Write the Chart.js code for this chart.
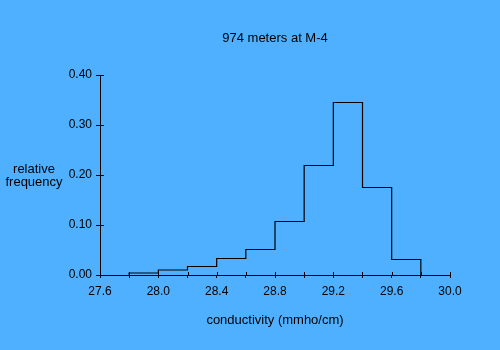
<!DOCTYPE html>
<html>
<head>
<meta charset="utf-8">
<script src="https://cdn.jsdelivr.net/npm/chart.js@4/dist/chart.umd.min.js"></script>
<style>
    html, body { margin: 0; padding: 0; background: #4fb0ff; }
    #chart { display: block; }
</style>
</head>
<body>
<canvas id="chart" width="500" height="350"></canvas>
<script>
// histogram data: bin left edges, relative frequency for each bin
const binEdges = [27.8, 28.0, 28.2, 28.4, 28.6, 28.8, 29.0, 29.2, 29.4, 29.6];
const binWidth = 0.2;
const frequencies = [0.004, 0.010, 0.017, 0.033, 0.051, 0.107, 0.219, 0.345, 0.175, 0.031];
const xTickLabels = ['27.6', '28.0', '28.4', '28.8', '29.2', '29.6', '30.0'];
const yTickLabels = ['0.00', '0.10', '0.20', '0.30', '0.40'];

// step outline points: each bin's height sits on its left edge
const stepPoints = [{ x: binEdges[0], y: 0 }];
binEdges.forEach((edge, i) => stepPoints.push({ x: edge, y: frequencies[i] }));
stepPoints.push({ x: binEdges[binEdges.length - 1] + binWidth, y: 0 });

const FONT = 'Arial, "Liberation Sans", sans-serif';

// inner half of the crossing tick marks + horizontal y title
const axisExtras = {
    id: 'axisExtras',
    afterDraw(chart) {
        const ctx = chart.ctx;
        const xs = chart.scales.x;
        const ys = chart.scales.y;
        ctx.save();
        ctx.strokeStyle = '#000';
        ctx.lineWidth = 1;
        ctx.beginPath();
        xs.ticks.forEach(t => {
            const px = Math.round(xs.getPixelForValue(t.value)) + 0.5;
            ctx.moveTo(px, ys.bottom);
            ctx.lineTo(px, ys.bottom - 3);
        });
        ys.ticks.forEach(t => {
            const py = Math.round(ys.getPixelForValue(t.value)) + 0.5;
            ctx.moveTo(xs.left, py);
            ctx.lineTo(xs.left + 4, py);
        });
        ctx.stroke();

        ctx.fillStyle = '#000';
        ctx.font = '13px ' + FONT;
        ctx.textAlign = 'center';
        ctx.textBaseline = 'middle';
        ctx.fillText('relative', 34, 169);
        ctx.fillText('frequency', 34, 182);
        ctx.restore();
    }
};

new Chart(document.getElementById('chart'), {
    type: 'line',
    data: {
        datasets: [{
            data: stepPoints,
            stepped: 'before',
            borderColor: '#000',
            borderWidth: 1.2,
            pointRadius: 0,
            fill: false
        }]
    },
    options: {
        responsive: false,
        animation: false,
        layout: { padding: { left: 0, right: 50, top: 0, bottom: 0 } },
        plugins: {
            legend: { display: false },
            tooltip: { enabled: false },
            title: {
                display: true,
                text: '974 meters at M-4',
                color: '#000',
                fullSize: false,
                font: { family: FONT, size: 13, weight: 'normal' },
                padding: { top: 31, bottom: 28.4 }
            }
        },
        scales: {
            x: {
                type: 'linear',
                min: 27.6,
                max: 30.0,
                border: { display: true, color: '#000', width: 1 },
                grid: { drawOnChartArea: false, drawTicks: true, tickLength: 3, color: '#000' },
                ticks: {
                    stepSize: 0.2,
                    color: '#000',
                    padding: 6,
                    maxRotation: 0,
                    autoSkip: false,
                    font: { family: FONT, size: 12 },
                    callback: (value, index) => index % 2 === 0 ? xTickLabels[index / 2] : ''
                },
                title: {
                    display: true,
                    text: 'conductivity (mmho/cm)',
                    color: '#000',
                    font: { family: FONT, size: 13 },
                    padding: { top: 4, bottom: 22 }
                },
                afterFit(scale) { scale.height = 75; }
            },
            y: {
                min: 0,
                max: 0.4,
                border: { display: true, color: '#000', width: 1 },
                grid: { drawOnChartArea: false, drawTicks: true, tickLength: 4, color: '#000' },
                ticks: {
                    stepSize: 0.1,
                    color: '#000',
                    padding: 4,
                    font: { family: FONT, size: 12 },
                    callback: (value, index) => yTickLabels[index]
                },
                afterFit(scale) { scale.width = 100; }
            }
        }
    },
    plugins: [axisExtras]
});
</script>
</body>
</html>
